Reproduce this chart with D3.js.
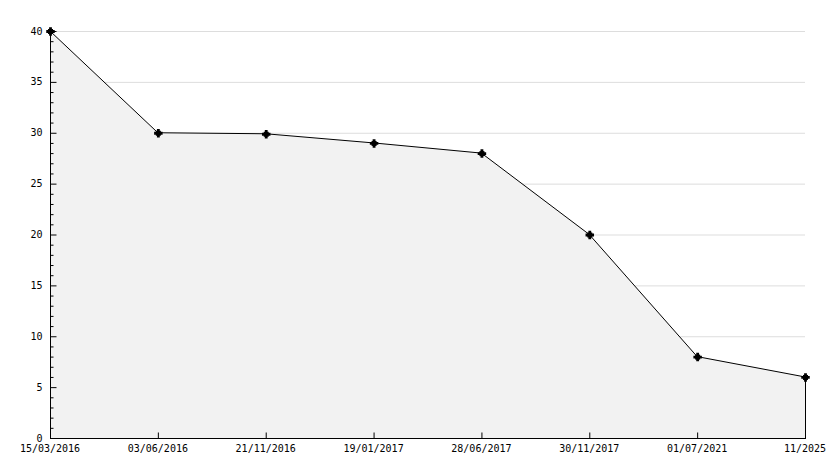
<!DOCTYPE html>
<html><head><meta charset="utf-8">
<script src="https://cdn.jsdelivr.net/npm/d3@7/dist/d3.min.js"></script>
<style>body{margin:0;background:#fff}svg{display:block}</style>
</head><body>
<svg id="c" width="834" height="468"></svg>
<script>
const categories = ["15/03/2016","03/06/2016","21/11/2016","19/01/2017","28/06/2017","30/11/2017","01/07/2021","11/2025"];
const values = [40, 30, 29.9, 29, 28, 20, 8, 6];
const yTicks = [0,5,10,15,20,25,30,35,40];

const svg = d3.select("#c");
const L = 50, R = 805, T = 31, B = 438;
const x = d3.scalePoint().domain(categories).range([L, R]);
const y = d3.scaleLinear().domain([0, 40]).range([B, T]);
const font = "'DejaVu Sans Mono', monospace";

// grid
svg.append("g").selectAll("line").data(yTicks.filter(d => d > 0)).join("line")
  .attr("x1", L).attr("x2", R).attr("y1", d => y(d) + 0.5).attr("y2", d => y(d) + 0.5)
  .attr("stroke", "#dddddd").attr("stroke-width", 1);

// area
const data = categories.map((c, i) => ({c, v: values[i]}));
svg.append("path").datum(data)
  .attr("d", d3.area().x(d => x(d.c)).y0(y(0)).y1(d => y(d.v)))
  .attr("fill", "#f2f2f2");

// line
svg.append("path").datum(data)
  .attr("d", d3.line().x(d => x(d.c)).y(d => y(d.v)))
  .attr("fill", "none").attr("stroke", "#000").attr("stroke-width", 1);

// right edge vertical
svg.append("line").attr("x1", x(categories[categories.length-1]) + 0.5).attr("x2", x(categories[categories.length-1]) + 0.5)
  .attr("y1", y(values[values.length-1])).attr("y2", y(0)).attr("stroke", "#000");

// y axis
const yAxis = svg.append("g").attr("transform", `translate(${L + 0.5},0)`);
yAxis.append("line").attr("y1", T).attr("y2", B + 0.5).attr("stroke", "#000");
const minor = d3.range(0, 41, 1);
yAxis.selectAll("line.t").data(minor).join("line").attr("class", "t")
  .attr("x1", 0).attr("x2", d => d % 5 === 0 ? 6 : 3)
  .attr("y1", d => y(d) + 0.5).attr("y2", d => y(d) + 0.5).attr("stroke", "#000");
yAxis.selectAll("text").data(yTicks).join("text")
  .attr("x", -8).attr("y", d => y(d)).attr("dy", "0.35em")
  .attr("text-anchor", "end").attr("font-family", font).attr("font-size", 10)
  .text(d => d);

// x axis
const xAxis = svg.append("g").attr("transform", `translate(0,${B + 0.5})`);
xAxis.append("line").attr("x1", L).attr("x2", R + 1).attr("stroke", "#000");
xAxis.selectAll("line.t").data(categories).join("line").attr("class", "t")
  .attr("x1", d => x(d) + 0.5).attr("x2", d => x(d) + 0.5).attr("y1", 0).attr("y2", -6).attr("stroke", "#000");
xAxis.selectAll("text").data(categories).join("text")
  .attr("x", d => x(d)).attr("y", 10).attr("dy", "0.35em")
  .attr("text-anchor", "middle").attr("font-family", font).attr("font-size", 10)
  .text(d => d);

// markers
svg.append("g").selectAll("g").data(data).join("g")
  .attr("transform", d => `translate(${x(d.c) + 0.5},${y(d.v) + 0.5})`)
  .each(function() {
    const g = d3.select(this);
    g.append("path").attr("d", d3.symbol(d3.symbolCross, 40)()).attr("fill", "#000");
    g.append("rect").attr("x", -2.5).attr("y", -2.5).attr("width", 5).attr("height", 5).attr("fill", "#000");
  });
</script>
</body></html>
